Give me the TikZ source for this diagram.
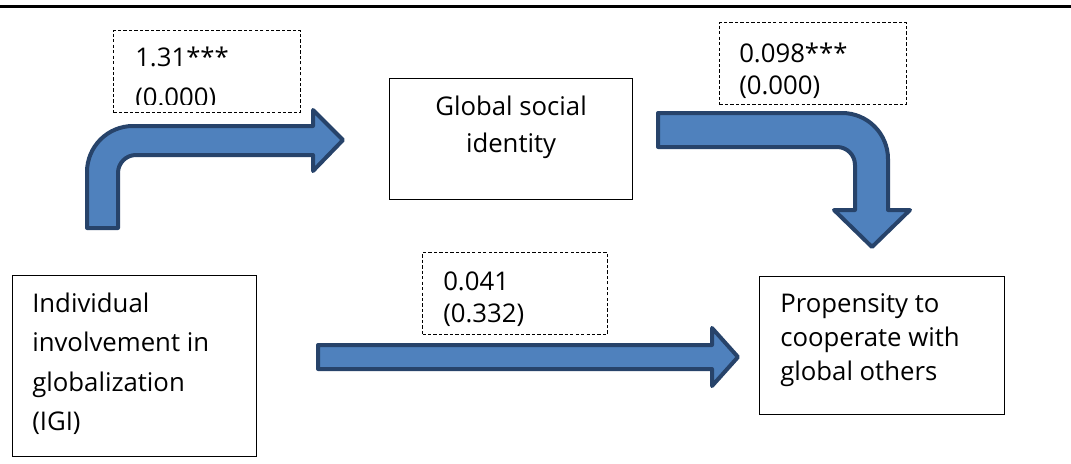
\documentclass[tikz,border=0pt]{standalone}
\usepackage{fontspec}
\setmainfont{Open Sans}
\usetikzlibrary{positioning}
\definecolor{arrowfill}{HTML}{4F81BD}
\definecolor{arrowline}{HTML}{27436A}

\begin{document}
\begin{tikzpicture}[
    x=0.75pt, y=-0.75pt,
    every node/.style={font=\fontsize{19.3pt}{24pt}\selectfont},
    box/.style={rectangle, draw, line width=0.9pt, anchor=north west, inner sep=0pt},
    coef/.style={rectangle, draw, dashed, dash pattern=on 2.5pt off 1.6pt,
                 line width=0.75pt, anchor=north west, inner sep=0pt},
    txt/.style={inner sep=0pt, align=left},
    blockarrow/.style={fill=arrowfill, draw=arrowline, line width=3pt, line join=round},
]
    \useasboundingbox (0,0) rectangle (1071,464);
    \draw[line width=2.25pt] (0,6) -- (1071,6);

    % boxes
    \node[box, minimum width=183pt, minimum height=135.75pt] (igi) at (12,275) {};
    \node[box, minimum width=182.25pt, minimum height=90.75pt] (gsi) at (389,78) {};
    \node[box, minimum width=183.75pt, minimum height=103.5pt] (pcg) at (759,276) {};
    \node[txt, font=\fontsize{19.3pt}{29.6pt}\selectfont,
          below right=13pt and 15pt of igi.north west] (igit)
        {Individual\\involvement in\\globalization\\(IGI)};
    \node[txt, align=center, font=\fontsize{19.3pt}{27.75pt}\selectfont,
          anchor=north, below=13pt of gsi.north] (gsit)
        {Global social\\identity};
    \node[txt, font=\fontsize{19.3pt}{25.5pt}\selectfont,
          below right=13pt and 15.75pt of pcg.north west] (pcgt)
        {Propensity to\\cooperate with\\global others};

    % coefficients
    \node[coef, minimum width=140.25pt, minimum height=61.5pt] (c1) at (113,30) {};
    \node[coef, minimum width=140.25pt, minimum height=61.5pt] (c2) at (719,22) {};
    \node[coef, minimum width=138.75pt, minimum height=61.5pt] (c3) at (422,252) {};
    \begin{scope}
        \clip (c1.north west) rectangle ([yshift=6.75pt]c1.south east);
        \node[txt, font=\fontsize{19.3pt}{30pt}\selectfont,
              below right=12.75pt and 16.5pt of c1.north west] (c1t)
            {1.31***\\(0.000)};
    \end{scope}
    \node[txt, below right=15.25pt and 15pt of c2.north west] (c2t) {0.098***\\(0.000)};
    \node[txt, below right=14.75pt and 15.75pt of c3.north west] (c3t) {0.041\\(0.332)};

    % arrows
    \draw[blockarrow] (87,228) -- (118,228) -- (118,173)
        arc[start angle=180, end angle=270, radius=18] -- (313,155) -- (313,171)
        -- (343,140) -- (313,110) -- (313,126) -- (133,126)
        arc[start angle=270, end angle=180, radius=46] -- cycle;
    \draw[blockarrow] (658,113) -- (842,113)
        arc[start angle=270, end angle=360, radius=46] -- (888,210) -- (910,210)
        -- (872,247) -- (834,210) -- (855,210) -- (855,165)
        arc[start angle=0, end angle=-90, radius=18] -- (658,147) -- cycle;
    \draw[blockarrow] (318,345) -- (712,345) -- (712,328) -- (738,357)
        -- (712,386) -- (712,369) -- (318,369) -- cycle;
\end{tikzpicture}
\end{document}
